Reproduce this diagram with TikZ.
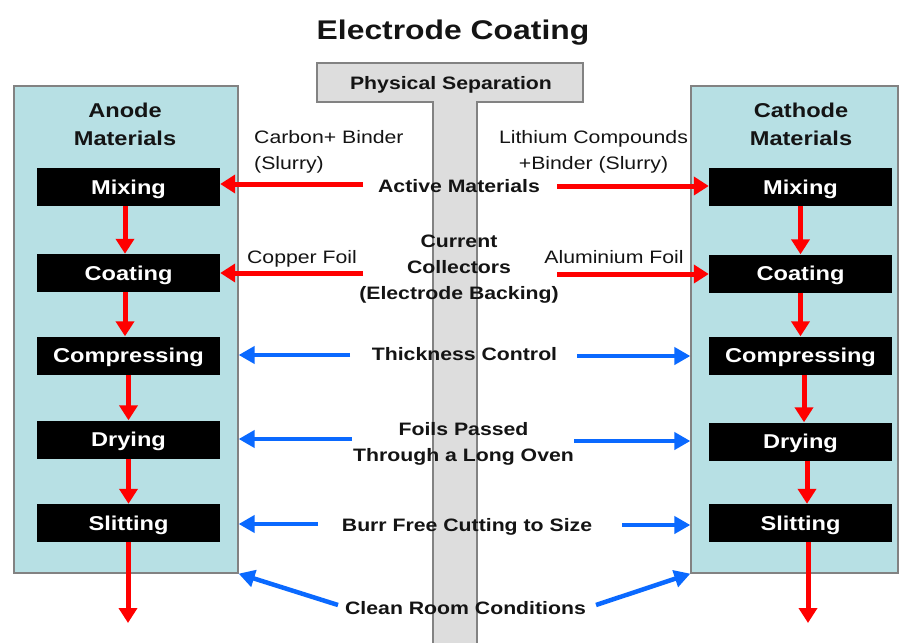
\documentclass[tikz,border=0pt]{standalone}
\usepackage{fontspec}
\setmainfont{Liberation Sans}[FakeStretch=1.18]
\usetikzlibrary{arrows.meta}
\definecolor{panelfill}{RGB}{183,224,228}
\definecolor{panelline}{RGB}{130,130,130}
\definecolor{sepfill}{RGB}{221,221,221}
\definecolor{redarr}{RGB}{255,0,0}
\definecolor{bluearr}{RGB}{10,105,255}
\definecolor{txt}{RGB}{20,20,20}
\begin{document}
\begin{tikzpicture}[x=1pt,y=-1pt,
  panelbox/.style={draw=panelline,fill=panelfill,line width=1.3pt,inner sep=0pt,minimum height=487pt},
  sepshape/.style={draw=panelline,fill=sepfill,line width=1.3pt},
  stepbox/.style={fill=black,text=white,font=\fontsize{20}{24}\selectfont\bfseries,minimum width=183pt,minimum height=38pt,inner sep=0pt,text height=14.4pt,text depth=0pt},
  head/.style={text=txt,font=\fontsize{20}{28}\selectfont\bfseries,align=center,inner sep=0pt},
  lbl/.style={text=txt,font=\fontsize{18}{26}\selectfont\bfseries,align=center,inner sep=0pt},
  note/.style={text=txt,font=\fontsize{18}{26}\selectfont,inner sep=0pt},
  redarrow/.style={draw=redarr,line width=5pt,-{Triangle[width=18pt,length=15pt]}},
  bluearrow/.style={draw=bluearr,line width=4.5pt,-{Triangle[width=17pt,length=16pt]}},
]
\useasboundingbox (0,0) rectangle (901,642);
\fill[white] (0,0) rectangle (901,642);

% panels
\node[panelbox,minimum width=224pt] (lpanel) at (126,329.5) {};
\node[panelbox,minimum width=207pt] (rpanel) at (794.5,329.5) {};

% physical separation T
\draw[sepshape] (317,63) -- (583,63) -- (583,102) -- (477,102) -- (477,650)
  -- (433,650) -- (433,102) -- (317,102) -- cycle;

% title
\node[text=txt,font=\fontsize{27}{32}\selectfont\bfseries,inner sep=0pt] (title) at (453,32.5) {Electrode Coating};
\node[lbl] (sep) at (451,85) {Physical Separation};

% panel headings
\node[head] (anode) at (125,124) {Anode\\Materials};
\node[head] (cathode) at (801,124) {Cathode\\Materials};

% step boxes left
\node[stepbox] (lmix)  at (128.5,187) {Mixing};
\node[stepbox] (lcoat) at (128.5,273) {Coating};
\node[stepbox] (lcomp) at (128.5,355.5) {Compressing};
\node[stepbox] (ldry)  at (128.5,439.5) {Drying};
\node[stepbox] (lslit) at (128.5,523) {Slitting};
% step boxes right
\node[stepbox] (rmix)  at (800.5,187) {Mixing};
\node[stepbox] (rcoat) at (800.5,273.5) {Coating};
\node[stepbox] (rcomp) at (800.5,355.5) {Compressing};
\node[stepbox] (rdry)  at (800.5,441.5) {Drying};
\node[stepbox] (rslit) at (800.5,523) {Slitting};

% texts
\node[note,anchor=west,align=left] (carbon) at (254,151.5) {Carbon+ Binder\\(Slurry)};
\node[note,align=center] (lithium) at (593.5,151.5) {Lithium Compounds\\+Binder (Slurry)};
\node[lbl] (active) at (459,186) {Active Materials};
\node[note] (copper) at (302,258.5) {Copper Foil};
\node[note] (alu) at (614,257) {Aluminium Foil};
\node[lbl] (collect) at (459,269.5) {Current\\Collectors\\(Electrode Backing)};
\node[lbl] (thick) at (464.5,354) {Thickness Control};
\node[lbl] (foils) at (463.5,444) {Foils Passed\\Through a Long Oven};
\node[lbl] (burr) at (467,526.5) {Burr Free Cutting to Size};
\node[lbl] (clean) at (465.5,608) {Clean Room Conditions};

% red horizontal arrows
\coordinate (am-l) at (363,184);
\coordinate (am-r) at (557,186);
\coordinate (cf-l) at (363,273);
\coordinate (cf-r) at (557,274);
\draw[redarrow] (am-l) -- (am-l -| lmix.east);
\draw[redarrow] (am-r) -- (am-r -| rmix.west);
\draw[redarrow] (cf-l) -- (cf-l -| lcoat.east);
\draw[redarrow] (cf-r) -- (cf-r -| rcoat.west);

% red vertical arrows left
\draw[redarrow] ([xshift=-3.5pt]lmix.south) -- ([xshift=-3.5pt]lcoat.north);
\draw[redarrow] ([xshift=-3.5pt]lcoat.south) -- ([xshift=-3.5pt]lcomp.north);
\draw[redarrow] (lcomp.south) -- (ldry.north);
\draw[redarrow] (ldry.south) -- (lslit.north);
\coordinate (lend) at (128,623);
\draw[redarrow] (lslit.south -| lend) -- (lend);
% red vertical arrows right
\draw[redarrow] (rmix.south) -- (rcoat.north);
\draw[redarrow] (rcoat.south) -- (rcomp.north);
\draw[redarrow] ([xshift=3.5pt]rcomp.south) -- ([xshift=3.5pt]rdry.north);
\draw[redarrow] ([xshift=6.5pt]rdry.south) -- ([xshift=6.5pt]rslit.north);
\coordinate (rend) at (808,623);
\draw[redarrow] (rslit.south -| rend) -- (rend);

% blue arrows
\coordinate (tc-l) at (350,355);
\coordinate (tc-r) at (577,356);
\coordinate (fp-l) at (352,439);
\coordinate (fp-r) at (574,441);
\coordinate (bf-l) at (318,524);
\coordinate (bf-r) at (622,525);
\coordinate (cr-l) at (338,605);
\coordinate (cr-r) at (596,605);
\draw[bluearrow] (tc-l) -- (tc-l -| lpanel.east);
\draw[bluearrow] (tc-r) -- (tc-r -| rpanel.west);
\draw[bluearrow] (fp-l) -- (fp-l -| lpanel.east);
\draw[bluearrow] (fp-r) -- (fp-r -| rpanel.west);
\draw[bluearrow] (bf-l) -- (bf-l -| lpanel.east);
\draw[bluearrow] (bf-r) -- (bf-r -| rpanel.west);
\draw[bluearrow] (cr-l) -- (lpanel.south east);
\draw[bluearrow] (cr-r) -- (rpanel.south west);
\end{tikzpicture}
\end{document}
